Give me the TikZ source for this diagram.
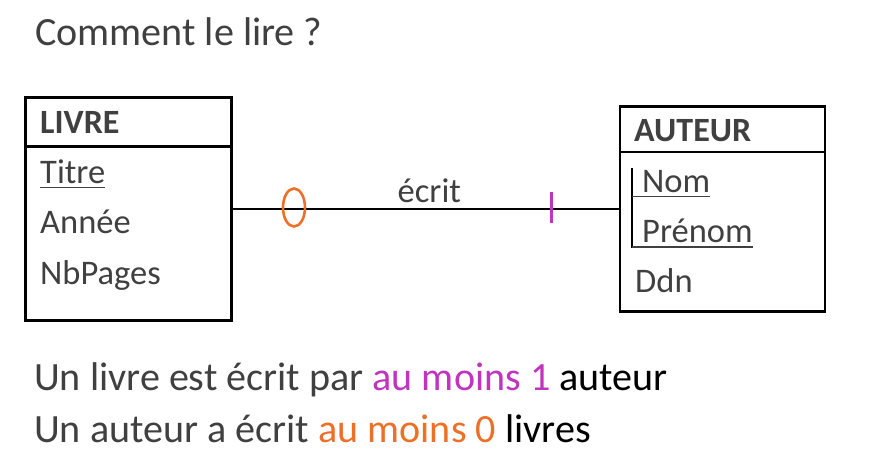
\documentclass[tikz,border=0pt]{standalone}
\usepackage{fontspec}
\usetikzlibrary{shapes.geometric}
\setmainfont{Carlito}
\definecolor{txt}{HTML}{404040}
\definecolor{orng}{HTML}{ED7028}
\definecolor{mgnt}{HTML}{C035C0}
\begin{document}
\begin{tikzpicture}[x=1pt,y=-1pt,
  txtnode/.style={anchor=base west,inner sep=0pt,text=txt},
  attr/.style={txtnode,font=\fontsize{34.5}{34.5}\selectfont},
  big/.style={txtnode,font=\fontsize{40.1}{40.1}\selectfont},
  entity/.style={draw=black,line width=2.6pt,anchor=north west,inner sep=0pt},
  ul/.style={draw=txt,line width=1.8pt}]
\useasboundingbox (0,0) rectangle (872,456);
\node[big] (title) at (35,45) {Comment le lire ?};
% LIVRE
\node[entity,minimum width=206pt,minimum height=223pt] (livre) at (24,96) {};
\draw[line width=2.6pt] (24,146.5) -- (230,146.5);
\node[attr,font=\fontsize{34}{34}\bfseries] (livreT) at (40,133) {LIVRE};
\node[attr] (titre) at (40,183.5) {Titre};
\node[attr] (annee) at (40,233.5) {Année};
\node[attr] (nbp) at (40,284) {NbPages};
\draw[ul] ([yshift=-4pt]titre.base west) -- ([yshift=-4pt]titre.base east);
% AUTEUR
\node[entity,minimum width=205pt,minimum height=205pt] (auteur) at (618.5,105) {};
\draw[line width=2.6pt] (618.5,152) -- (823.5,152);
\node[attr,font=\fontsize{34}{34}\bfseries] (auteurT) at (634,141.5) {AUTEUR};
\node[attr] (nom) at (642,192) {Nom};
\node[attr] (prenom) at (642,242) {Prénom};
\node[attr] (ddn) at (635,292) {Ddn};
\coordinate (bartop) at (632,168);
\coordinate (barbot) at (632,248);
\draw[line width=2.2pt,black] (bartop) -- (barbot);
\draw[ul] (632,196.5) -- (nom.base east |- 0,196.5);
\draw[ul] (632,247) -- (prenom.base east |- 0,247);
% connector
\draw[line width=2pt] (livre.east) -- (auteur.west);
\node[draw=orng,line width=2.6pt,ellipse,minimum width=22pt,minimum height=38pt,inner sep=0pt] (zero) at (294,207.5) {};
\draw[mgnt,line width=3.2pt] (551.7,192) -- (551.7,223) coordinate (one);
\node[attr] (ecrit) at (397.5,202) {écrit};
% bottom text
\node[big] (l1) at (34,390) {Un livre est écrit par \textcolor{mgnt}{au moins 1} \textcolor{black}{auteur}};
\node[big] (l2) at (34,442) {Un auteur a écrit \textcolor{orng}{au moins 0} \textcolor{black}{livres}};
\end{tikzpicture}
\end{document}
